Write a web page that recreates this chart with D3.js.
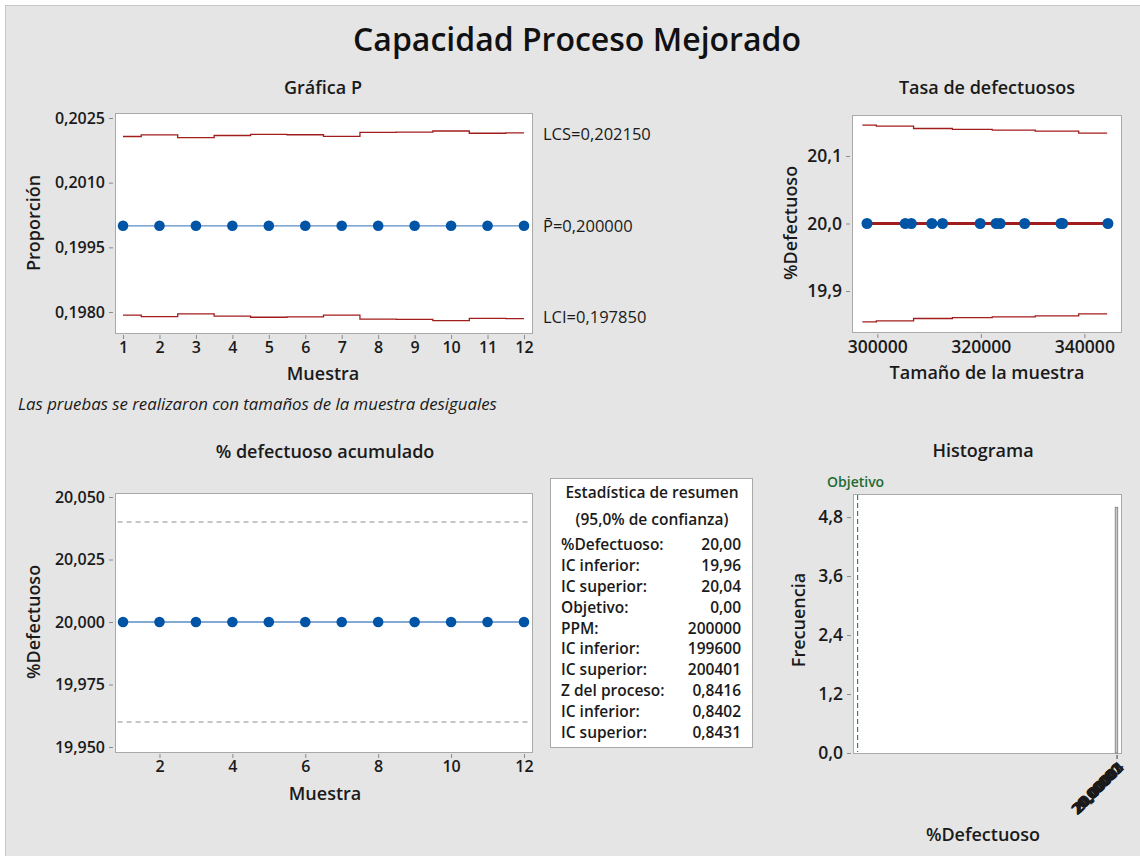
<!DOCTYPE html>
<html>
<head>
<meta charset="utf-8">
<script src="https://cdn.jsdelivr.net/npm/d3@7"></script>
<style>
  body { margin: 0; background: #fff; }
  text { font-family: 'Open Sans', 'Noto Sans', sans-serif; }
</style>
</head>
<body>
<div id="chart_div"></div>
<script>
// data
const samples = [1, 2, 3, 4, 5, 6, 7, 8, 9, 10, 11, 12];
const sampleSize = [335800, 323720, 344550, 328470, 319870, 322950, 335490, 306560, 305400, 298000, 312600, 310530];
const propValues = [0.2, 0.2, 0.2, 0.2, 0.2, 0.2, 0.2, 0.2, 0.2, 0.2, 0.2, 0.2];
const uclValues = [0.202071, 0.202109, 0.202044, 0.202094, 0.202122, 0.202112, 0.202072, 0.202167, 0.202171, 0.202198, 0.202146, 0.202153];
const lclValues = [0.197929, 0.197891, 0.197956, 0.197906, 0.197878, 0.197888, 0.197928, 0.197833, 0.197829, 0.197802, 0.197854, 0.197847];
const pBar = 0.2;
const pLabels = ["LCS=0,202150", "P\u0304=0,200000", "LCI=0,197850"];

const defectPct = [20, 20, 20, 20, 20, 20, 20, 20, 20, 20, 20, 20];
const rateLimN = [297100, 299800, 307000, 314500, 322200, 330500, 338900, 344400];
const rateUpper = [20.1456, 20.1441, 20.1407, 20.1393, 20.1382, 20.1367, 20.1338, 20.1338];
const rateLower = [19.8544, 19.8559, 19.8593, 19.8607, 19.8618, 19.8633, 19.8662, 19.8662];

const cumPct = [20, 20, 20, 20, 20, 20, 20, 20, 20, 20, 20, 20];
const cumCI = [19.96, 20.04];

const histBins = ["20,00000", "20,00001", "20,00002", "20,00003", "20,00004"];
const histX = 20;
const histFreq = 5;
const target = 0;

const summaryRows = [
  ["%Defectuoso:", "20,00"], ["IC inferior:", "19,96"], ["IC superior:", "20,04"],
  ["Objetivo:", "0,00"], ["PPM:", "200000"], ["IC inferior:", "199600"],
  ["IC superior:", "200401"], ["Z del proceso:", "0,8416"], ["IC inferior:", "0,8402"],
  ["IC superior:", "0,8431"]
];

const es = d3.formatLocale({decimal: ",", thousands: ".", grouping: [3], currency: ["", "€"]});
const blue = "#0054a6", lineBlue = "#5b8cc4", red = "#a11d1d";

const svg = d3.select("#chart_div").append("svg")
  .attr("width", 1140).attr("height", 856);

// background panel
svg.append("rect").attr("x", 5.5).attr("y", 5.5).attr("width", 1140).attr("height", 856)
  .attr("fill", "#e5e5e5").attr("stroke", "#c6c6c6");

svg.append("text").attr("x", 577).attr("y", 51).attr("text-anchor", "middle")
  .attr("font-size", 32).attr("font-weight", 600).attr("fill", "#111")
  .text("Capacidad Proceso Mejorado");

const frame = (x0, y0, x1, y1) => {
  svg.append("rect").attr("x", x0 + 0.5).attr("y", y0 + 0.5)
    .attr("width", x1 - x0).attr("height", y1 - y0)
    .attr("fill", "#fff").attr("stroke", "#a9a9a9");
}

const styleAxis = (size) => (g) => {
  g.select(".domain").remove();
  g.selectAll(".tick line").attr("stroke", "#8a8a8a");
  g.selectAll(".tick text").attr("fill", "#1a1a1a").attr("font-size", size).attr("font-weight", 600)
    .style("font-family", "'Open Sans', 'Noto Sans', sans-serif");
}

const label = (x, y, txt, opts = {}) => {
  const t = svg.append("text").attr("text-anchor", opts.anchor || "middle")
    .attr("font-size", opts.size || 18).attr("font-weight", opts.weight || 600)
    .attr("fill", opts.fill || "#1a1a1a").text(txt);
  if (opts.rotate) t.attr("transform", `translate(${x},${y}) rotate(-90)`);
  else t.attr("x", x).attr("y", y);
  if (opts.italic) t.attr("font-style", "italic");
  return t;
}

// ---------- Grafica P ----------
plotP = () => {
  const x = d3.scaleLinear().domain([0.78, 12.22]).range([115, 532]);
  const y = d3.scaleLinear().domain([0.197513, 0.202616]).range([333, 113]);
  frame(115, 113, 532, 333);

  svg.append("g").attr("transform", "translate(113,0)")
    .call(d3.axisLeft(y).tickValues([0.198, 0.1995, 0.201, 0.2025]).tickFormat(es.format(".4f")).tickSize(4).tickPadding(4))
    .call(styleAxis(16));
  svg.append("g").attr("transform", "translate(0,335)")
    .call(d3.axisBottom(x).tickValues(samples).tickFormat(d3.format("d")).tickSize(4).tickPadding(3))
    .call(styleAxis(16));

  const step = d3.line().x((d, i) => x(samples[i])).y(d => y(d)).curve(d3.curveStep);
  [uclValues, lclValues].forEach(arr => {
    svg.append("path").datum(arr).attr("fill", "none").attr("stroke", red)
      .attr("stroke-width", 1.3).attr("d", step);
  });

  svg.append("path").datum(propValues).attr("fill", "none").attr("stroke", lineBlue)
    .attr("stroke-width", 1.3)
    .attr("d", d3.line().x((d, i) => x(samples[i])).y(d => y(d)));
  svg.append("g").selectAll("circle").data(propValues).join("circle")
    .attr("cx", (d, i) => x(samples[i])).attr("cy", d => y(d)).attr("r", 5.3).attr("fill", blue);

  const yLab = [d3.mean(uclValues), pBar, d3.mean(lclValues)];
  pLabels.forEach((t, i) => {
    label(543, y(yLab[i]) + 6, t, {anchor: "start", size: 16.5, weight: 400});
  });

  label(323, 94, "Gráfica P");
  label(323, 380, "Muestra");
  label(40, 223, "Proporción", {rotate: true});
  label(18, 410, "Las pruebas se realizaron con tamaños de la muestra desiguales",
    {anchor: "start", size: 16.8, weight: 400, italic: true});
}

// ---------- Tasa de defectuosos ----------
plotRate = () => {
  const x = d3.scaleLinear().domain([295100, 347080]).range([852, 1121]);
  const y = d3.scaleLinear().domain([19.8393, 20.1607]).range([332, 115]);
  frame(852, 115, 1121, 332);

  svg.append("g").attr("transform", "translate(850,0)")
    .call(d3.axisLeft(y).tickValues([19.9, 20.0, 20.1]).tickFormat(es.format(".1f")).tickSize(4).tickPadding(4))
    .call(styleAxis(17.5));
  svg.append("g").attr("transform", "translate(0,334)")
    .call(d3.axisBottom(x).tickValues([300000, 320000, 340000]).tickFormat(d3.format("d")).tickSize(4).tickPadding(3))
    .call(styleAxis(17.5));

  const step = d3.line().x((d, i) => x(rateLimN[i])).y(d => y(d)).curve(d3.curveStepAfter);
  [rateUpper, rateLower].forEach(arr => {
    svg.append("path").datum(arr).attr("fill", "none").attr("stroke", red)
      .attr("stroke-width", 1.3).attr("d", step);
  });

  const nExt = d3.extent(sampleSize);
  svg.append("line").attr("x1", x(nExt[0])).attr("x2", x(nExt[1]))
    .attr("y1", y(20)).attr("y2", y(20)).attr("stroke", red).attr("stroke-width", 3);

  svg.append("g").selectAll("circle").data(defectPct).join("circle")
    .attr("cx", (d, i) => x(sampleSize[i])).attr("cy", d => y(d)).attr("r", 5.5).attr("fill", blue);

  label(987, 94, "Tasa de defectuosos");
  label(987, 379, "Tamaño de la muestra");
  label(797, 223, "%Defectuoso", {rotate: true});
}

// ---------- % defectuoso acumulado ----------
plotCum = () => {
  const x = d3.scaleLinear().domain([0.78, 12.22]).range([115, 532]);
  const y = d3.scaleLinear().domain([19.948, 20.0516]).range([752, 493]);
  frame(115, 493, 532, 752);

  svg.append("g").attr("transform", "translate(113,0)")
    .call(d3.axisLeft(y).tickValues([19.95, 19.975, 20, 20.025, 20.05]).tickFormat(es.format(".3f")).tickSize(4).tickPadding(4))
    .call(styleAxis(16));
  svg.append("g").attr("transform", "translate(0,754)")
    .call(d3.axisBottom(x).tickValues([2, 4, 6, 8, 10, 12]).tickFormat(d3.format("d")).tickSize(4).tickPadding(3))
    .call(styleAxis(16));

  svg.append("g").selectAll("line").data(cumCI).join("line")
    .attr("x1", x(0.85)).attr("x2", x(12.1)).attr("y1", d => y(d)).attr("y2", d => y(d))
    .attr("stroke", "#b4b4b4").attr("stroke-width", 1.3).attr("stroke-dasharray", "5,4");

  svg.append("path").datum(cumPct).attr("fill", "none").attr("stroke", lineBlue)
    .attr("stroke-width", 1.3)
    .attr("d", d3.line().x((d, i) => x(samples[i])).y(d => y(d)));
  svg.append("g").selectAll("circle").data(cumPct).join("circle")
    .attr("cx", (d, i) => x(samples[i])).attr("cy", d => y(d)).attr("r", 5.3).attr("fill", blue);

  label(325, 458, "% defectuoso acumulado");
  label(325, 800, "Muestra");
  label(40, 622, "%Defectuoso", {rotate: true});
}

// ---------- summary table ----------
plotSummary = () => {
  svg.append("rect").attr("x", 550.5).attr("y", 478.5).attr("width", 202).attr("height", 269)
    .attr("fill", "#fff").attr("stroke", "#a9a9a9");
  label(652, 498, "Estadística de resumen", {size: 15.5, weight: 600});
  label(652, 525, "(95,0% de confianza)", {size: 15.5, weight: 600});
  const rowY = d3.scaleLinear().domain([0, 9]).range([550, 738]);
  summaryRows.forEach((r, i) => {
    label(561, rowY(i), r[0], {anchor: "start", size: 15.5, weight: 600});
    label(741, rowY(i), r[1], {anchor: "end", size: 15.5, weight: 600});
  });
}

// ---------- Histograma ----------
plotHist = () => {
  const x = d3.scaleLinear().domain([-0.355, 20.33]).range([853, 1121]);
  const y = d3.scaleLinear().domain([0, 5.27]).range([753, 494]);
  frame(853, 494, 1121, 753);

  svg.append("g").attr("transform", "translate(851,0)")
    .call(d3.axisLeft(y).tickValues([0, 1.2, 2.4, 3.6, 4.8]).tickFormat(es.format(".1f")).tickSize(4).tickPadding(4))
    .call(styleAxis(17.5));

  const xa = svg.append("g").attr("transform", "translate(0,755)")
    .call(d3.axisBottom(x).tickValues(histBins.map(() => histX)).tickFormat((d, i) => histBins[i]).tickSize(4).tickPadding(4))
    .call(styleAxis(15));
  xa.selectAll(".tick text").attr("text-anchor", "end")
    .attr("transform", (d, i) => `translate(${-2 + i * 0.7},${4 - i * 0.6}) rotate(-45)`)
    .attr("dy", "0.35em").attr("dx", "-0.2em");

  svg.append("rect").attr("x", x(histX) - 1.5).attr("y", y(histFreq))
    .attr("width", 2.5).attr("height", y(0) - y(histFreq))
    .attr("fill", "#c8c8c8").attr("stroke", "#7a7a7a").attr("stroke-width", 0.8);

  svg.append("line").attr("x1", x(target)).attr("x2", x(target)).attr("y1", 495).attr("y2", 752)
    .attr("stroke", "#2e8b47").attr("stroke-width", 1.2).attr("stroke-dasharray", "5,3");
  label(x(target) - 2, 487, "Objetivo", {size: 14, weight: 600, fill: "#1e6b33"});

  label(983, 457, "Histograma");
  label(983, 841, "%Defectuoso");
  label(805, 620, "Frecuencia", {rotate: true});
}

plotP();
plotRate();
plotCum();
plotSummary();
plotHist();
</script>
</body>
</html>
